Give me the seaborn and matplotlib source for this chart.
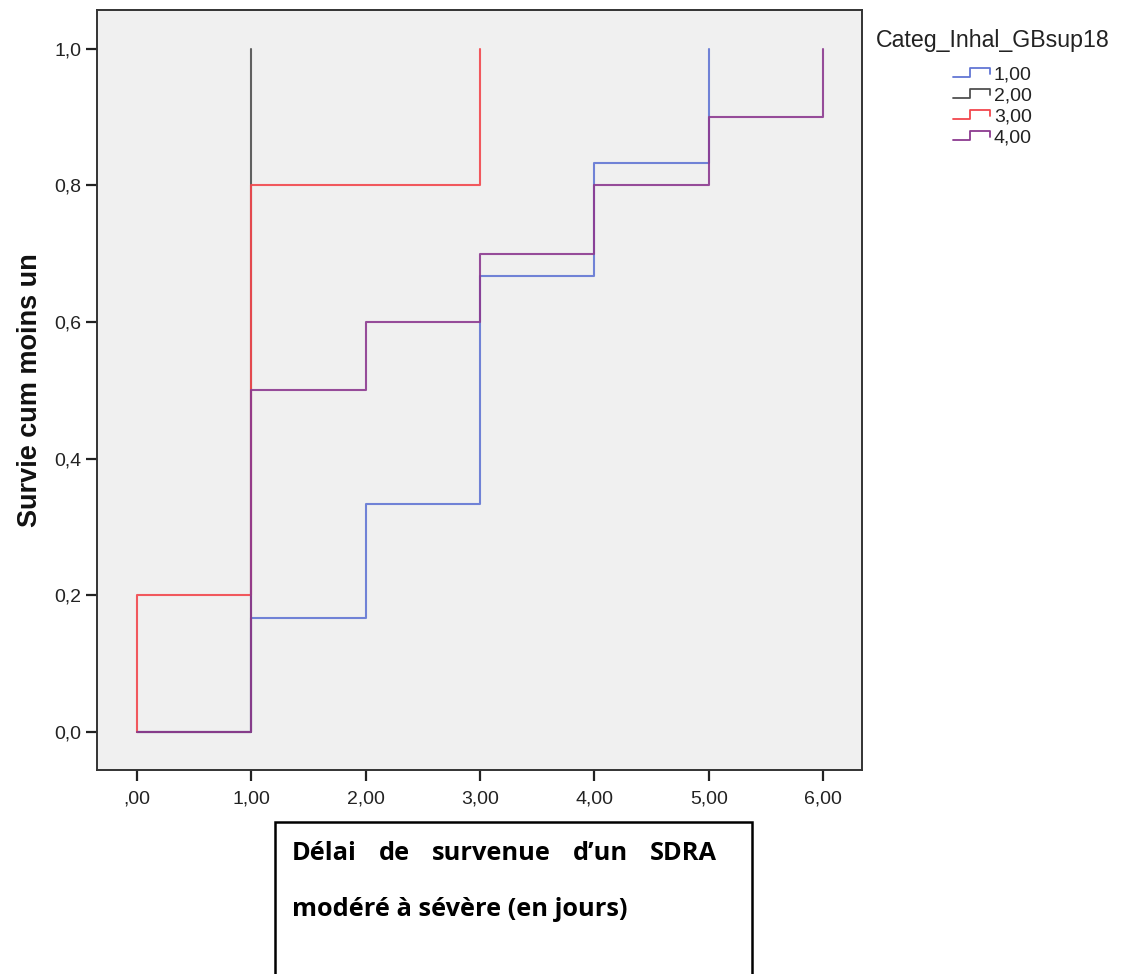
import numpy as np
import pandas as pd
import matplotlib
matplotlib.use("Agg")
import matplotlib.pyplot as plt
import seaborn as sns
from matplotlib.lines import Line2D
from matplotlib.patches import Rectangle
from matplotlib.legend_handler import HandlerBase

# ── data: cumulative (1 - survival) by category ──────────
cat_labels = ["1,00", "2,00", "3,00", "4,00"]
t_cat1 = [0, 1, 2, 3, 4, 5]
v_cat1 = [0.0, 0.167, 0.333, 0.667, 0.833, 1.0]
t_cat2 = [0, 1]
v_cat2 = [0.0, 1.0]
t_cat3 = [0, 0, 1, 3]
v_cat3 = [0.0, 0.2, 0.8, 1.0]
t_cat4 = [0, 1, 2, 3, 4, 5, 6]
v_cat4 = [0.0, 0.5, 0.6, 0.7, 0.8, 0.9, 1.0]

x_ticks = [0, 1, 2, 3, 4, 5, 6]
x_ticklabels = [",00", "1,00", "2,00", "3,00", "4,00", "5,00", "6,00"]
y_ticks = [0.0, 0.2, 0.4, 0.6, 0.8, 1.0]
y_ticklabels = ["0,0", "0,2", "0,4", "0,6", "0,8", "1,0"]

COLORS = {
    "1,00": "#6276d4",
    "2,00": "#505050",
    "3,00": "#f2474d",
    "4,00": "#8c3a90",
}

frames = []
for lab, t, v in zip(cat_labels, [t_cat1, t_cat2, t_cat3, t_cat4],
                     [v_cat1, v_cat2, v_cat3, v_cat4]):
    frames.append(pd.DataFrame({"time": t, "cum": v, "cat": lab}))
df = pd.concat(frames, ignore_index=True)

sns.set_style("white", {"axes.facecolor": "#f0f0f0"})
plt.rcParams["font.family"] = ["Liberation Sans", "DejaVu Sans"]

W, H = 1121, 974
fig = plt.figure(figsize=(W / 100, H / 100), dpi=100)
ax = fig.add_axes([97 / W, (H - 770) / H, (862 - 97) / W, (770 - 10) / H])

sns.lineplot(data=df, x="time", y="cum", hue="cat", palette=COLORS,
             estimator=None, sort=False, drawstyle="steps-post",
             linewidth=1.5, alpha=0.9, legend=False, ax=ax)

ax.set_xlim(-0.35, 6.34)
ax.set_ylim(-0.056, 1.057)
ax.set_xticks(x_ticks)
ax.set_xticklabels(x_ticklabels, fontsize=14)
ax.set_yticks(y_ticks)
ax.set_yticklabels(y_ticklabels, fontsize=14)
ax.tick_params(bottom=True, left=True, direction="out", length=8, width=1.6,
               color="#222222", labelcolor="#222222", pad=3)
ax.tick_params(axis="x", pad=7)
ax.set_xlabel("")
ax.set_ylabel("Survie cum moins un", fontsize=19.5, fontweight="bold",
              color="#111111", labelpad=8)
for sp in ax.spines.values():
    sp.set_color("#333333")
    sp.set_linewidth(1.4)


# ── legend with step-shaped handles ──────────────────────
class StepHandler(HandlerBase):
    def create_artists(self, legend, orig_handle, xdescent, ydescent,
                       width, height, fontsize, trans):
        xs = np.array([0, 0.45, 0.45, 1.0, 1.0]) * width - xdescent
        ys = np.array([0.15, 0.15, 0.85, 0.85, 0.4]) * height - ydescent
        ln = Line2D(xs, ys, color=orig_handle.get_color(), lw=1.3)
        ln.set_transform(trans)
        return [ln]


handles = [Line2D([], [], color=COLORS[c]) for c in cat_labels]
leg = fig.legend(handles, cat_labels, title="Categ_Inhal_GBsup18",
                 loc="upper left", bbox_to_anchor=(862 / W, 1 - 15 / H),
                 frameon=False, fontsize=14, title_fontsize=16.7,
                 handlelength=1.9, handletextpad=0.2, labelspacing=0.18,
                 borderpad=0.2,
                 handler_map={Line2D: StepHandler()})
leg._legend_box.sep = 10
for t in leg.get_texts():
    t.set_color("#222222")
leg.get_title().set_color("#222222")

# ── x-axis caption box (justified first line) ────────────
fig.patches.append(Rectangle((275 / W, -0.01), (752 - 275) / W,
                             (H - 822) / H + 0.01, transform=fig.transFigure,
                             fill=False, edgecolor="black", linewidth=1.8))
cap_font = dict(family=["Open Sans", "DejaVu Sans"], fontweight="bold",
                fontsize=18.3, color="black", va="center", ha="left")
line1 = ["Délai", "de", "survenue", "d’un", "SDRA"]
left_px, right_px = 292, 717
texts = [fig.text(0, 1 - 854 / H, w, **cap_font) for w in line1]
renderer = fig.canvas.get_renderer()
widths = [t.get_window_extent(renderer).width for t in texts]
gap = (right_px - left_px - sum(widths)) / (len(line1) - 1)
x = left_px
for t, w in zip(texts, widths):
    t.set_x(x / W)
    x += w + gap
fig.text(292 / W, 1 - 909 / H, "modéré à sévère (en jours)", **cap_font)

fig.savefig("out.png", dpi=100)
plt.close(fig)
